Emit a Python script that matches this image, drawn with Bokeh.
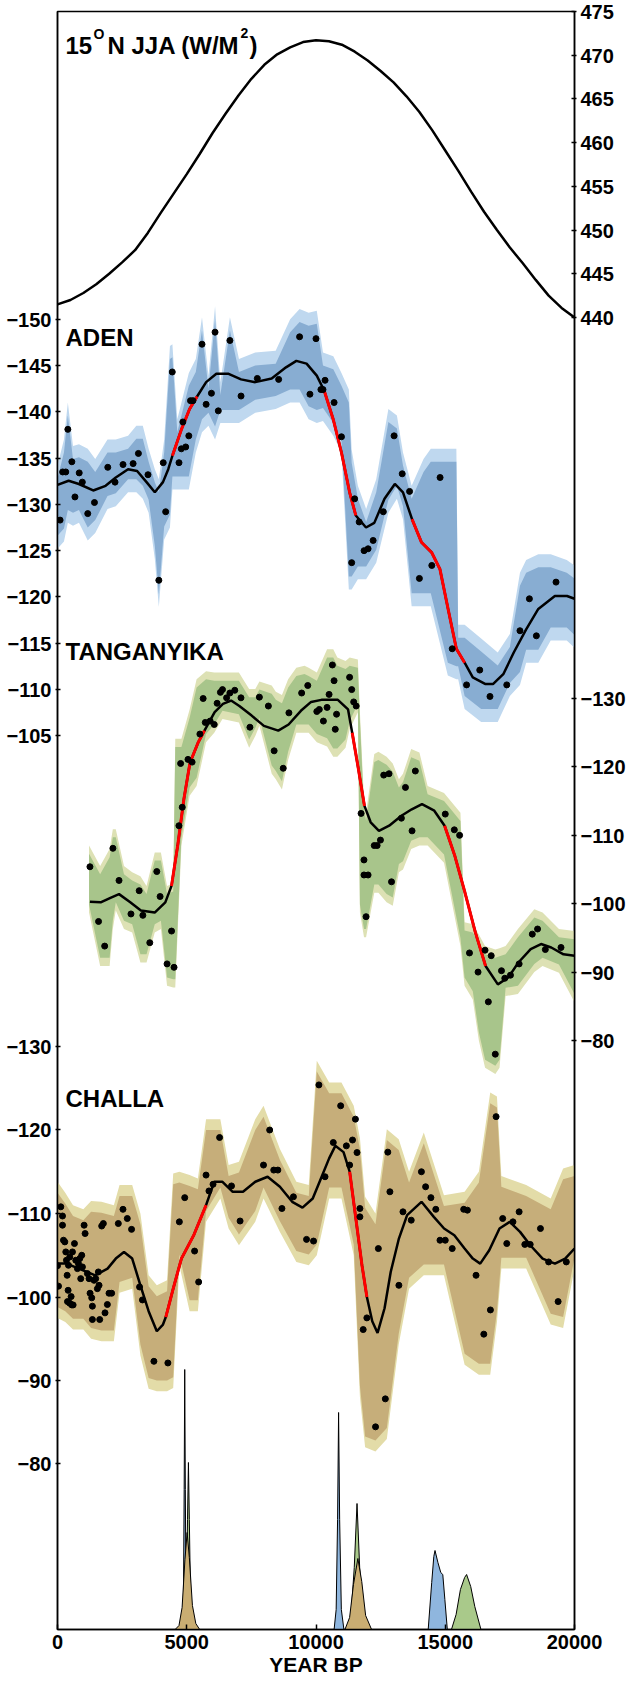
import numpy as np
from bokeh.plotting import figure
from bokeh.models import Range1d, LinearAxis, FixedTicker, Label
from bokeh.embed import file_html
from bokeh.resources import INLINE

# ---------------- data ----------------
insol_year = [0, 500, 1000, 1500, 2000, 2500, 3000, 3500, 4000, 4500, 5000, 5500, 6000, 6500, 7000, 7500,
              8000, 8500, 9000, 9500, 10000, 10500, 11000, 11500, 12000, 12500, 13000, 13500, 14000, 14500,
              15000, 15500, 16000, 16500, 17000, 17500, 18000, 18500, 19000, 19500, 20000]
insol_wm2 = [441.5, 442.0, 442.8, 443.8, 445.0, 446.3, 447.7, 449.7, 452.0, 454.2, 456.4, 458.7, 461.1, 463.3,
             465.4, 467.3, 468.9, 470.1, 470.9, 471.5, 471.7, 471.6, 471.2, 470.4, 469.4, 468.2, 466.9, 465.3,
             463.5, 461.4, 459.1, 456.8, 454.4, 452.1, 450.0, 448.0, 446.2, 444.3, 442.5, 441.1, 440.0]

aden_year = [100, 200, 320, 400, 555, 675, 840, 960, 1170, 1430, 1945, 2225, 2535, 2925, 3130, 3500, 3920,
             4090, 4185, 4440, 4700, 4790, 4850, 4960, 5080, 5145, 5240, 5590, 5750, 5955, 6095, 6220,
             6670, 7100, 7730, 8555, 9365, 9765, 10000, 10190, 10270, 10350, 10700, 10985, 11380, 11495,
             11670, 11860, 12015, 12210, 12605, 13020, 13335, 13620, 14000, 14480, 14800, 15270, 15825,
             16335, 16730, 17380, 17890, 18255, 18525, 19285]
aden_dD = [-128.3, -133.5, -133.5, -138.1, -134.6, -130.8, -133.4, -132.4, -129.0, -130.2, -134.0, -132.4,
           -134.3, -134.4, -135.5, -133.2, -121.8, -134.5, -129.2, -144.3, -134.5, -136.0, -138.9, -136.2,
           -137.4, -141.2, -141.2, -147.3, -140.8, -142.0, -148.6, -140.1, -147.7, -141.7, -143.6, -143.5,
           -148.1, -141.9, -147.9, -142.4, -142.4, -143.4, -141.0, -137.3, -123.7, -130.6, -128.1, -125.0,
           -125.2, -126.1, -129.2, -137.4, -133.3, -131.4, -122.0, -123.4, -132.9, -114.4, -110.5, -112.1,
           -109.25, -110.5, -116.35, -119.8, -115.8, -121.6]
aden_fit_year = [0, 430, 826, 1380, 1860, 2255, 2730, 3080, 3445, 3765, 4080, 4285, 4445, 4795, 5110, 5400,
                 5750, 6145, 6620, 7100, 7650, 8285, 8840, 9240, 9635, 10030, 10315, 10665, 10985, 11300,
                 11540, 11935, 12255, 12650, 13050, 13365, 13715, 14080, 14475, 14795, 15110, 15430, 15750,
                 16065, 16540, 16855, 17255, 17650, 18130, 18600, 19240, 19710, 20000]
aden_fit = [-132.1, -132.55, -132.2, -131.5, -132.0, -132.9, -133.8, -133.6, -132.4, -131.3, -132.4, -133.8,
            -135.25, -138.1, -140.3, -141.65, -143.2, -144.1, -144.1, -143.5, -143.2, -143.6, -144.8, -145.5,
            -145.2, -143.9, -142.3, -139.2, -135.6, -131.3, -128.8, -127.5, -128.0, -130.6, -132.2, -131.3,
            -128.4, -125.9, -124.8, -123.0, -118.7, -114.4, -112.9, -111.3, -110.6, -110.6, -111.7, -114.0,
            -116.5, -118.7, -120.1, -120.1, -119.8]
aden_red = [(4445, 5400), (10315, 11540), (13715, 15750)]
aden_band_year = [0, 250, 400, 600, 830, 1170, 1460, 1935, 2255, 2730, 3050, 3300, 3525, 3765, 3920, 4127,
                  4350, 4445, 4635, 5080, 5350, 5590, 5840, 6095, 6300, 6670, 7020, 7650, 8440, 9000, 9365,
                  9715, 10030, 10270, 10670, 10985, 11270, 11380, 11620, 11940, 12330, 12800, 13130, 13365,
                  13700, 14160, 14440, 15100, 15430, 15500, 15750, 16390, 17030, 17500, 17890, 18130, 18600,
                  19080, 19700, 20000]
aden_outer_lo = [-134.2, -137.0, -141.0, -136.3, -136.5, -136.0, -134.9, -137.0, -137.0, -137.4, -138.5, -138.5,
                 -136.0, -133.8, -132.7, -137.0, -147.1, -147.3, -139.2, -144.2, -145.7, -150.2, -143.9, -151.4,
                 -143.2, -150.2, -145.7, -146.4, -146.6, -150.0, -151.1, -150.7, -150.9, -146.4, -146.0, -144.2,
                 -142.4, -135.9, -132.0, -129.5, -132.7, -140.3, -139.6, -135.6, -132.0, -134.9, -136.0, -136.0,
                 -136.0, -117.0, -117.0, -115.5, -114.0, -116.0, -122.6, -124.0, -124.6, -124.6, -124.0, -123.4]
aden_outer_hi = [-125.2, -126.0, -128.0, -127.7, -128.0, -126.1, -126.9, -129.5, -129.8, -131.3, -131.3, -130.6,
                 -129.1, -124.1, -118.9, -126.2, -127.5, -131.6, -131.6, -131.6, -135.6, -137.8, -138.5, -137.0,
                 -138.8, -138.8, -138.8, -139.9, -140.3, -141.0, -141.0, -139.2, -138.8, -139.0, -137.4, -135.6,
                 -120.8, -120.8, -121.9, -121.9, -123.7, -129.1, -130.6, -128.4, -119.0, -119.0, -119.0, -111.5,
                 -111.1, -111.1, -107.9, -106.5, -106.5, -109.3, -110.5, -112.9, -112.9, -115.3, -115.3, -114.5]
aden_inner_lo = [-132.8, -135.6, -139.6, -134.9, -135.1, -134.6, -133.5, -135.6, -135.6, -136.0, -137.1, -137.1,
                 -134.6, -132.4, -131.3, -135.6, -145.7, -145.9, -137.8, -142.8, -144.3, -148.8, -142.5, -150.0,
                 -141.8, -148.8, -144.3, -145.0, -145.2, -148.6, -149.7, -149.3, -149.5, -145.0, -144.6, -142.8,
                 -141.0, -134.5, -130.6, -128.1, -131.3, -138.9, -138.2, -134.2, -130.6, -133.5, -134.6, -134.6,
                 -134.6, -115.6, -115.6, -114.1, -112.6, -114.6, -121.2, -122.6, -123.2, -123.2, -122.6, -122.0]
aden_inner_hi = [-126.6, -127.4, -129.4, -129.1, -129.4, -127.5, -128.3, -130.9, -131.2, -132.7, -132.7, -132.0,
                 -130.5, -125.5, -120.3, -127.6, -128.9, -133.0, -133.0, -133.0, -137.0, -139.2, -139.9, -138.4,
                 -140.2, -140.2, -140.2, -141.3, -141.7, -142.4, -142.4, -140.6, -140.2, -140.4, -138.8, -137.0,
                 -122.2, -122.2, -123.3, -123.3, -125.1, -130.5, -132.0, -129.8, -120.4, -120.4, -120.4, -112.9,
                 -112.5, -112.5, -109.3, -107.9, -107.9, -110.7, -111.9, -114.3, -114.3, -116.7, -116.7, -115.9]

tang_year = [1255, 1588, 1825, 2143, 2380, 2842, 3160, 3302, 3570, 3841, 3969, 4238, 4412, 4508, 4698, 4763,
             4825, 5048, 5207, 5508, 5635, 5716, 5905, 6064, 6175, 6302, 6383, 6541, 6668, 6858, 7097, 7444,
             7810, 8158, 8381, 8732, 8952, 9445, 9681, 10031, 10128, 10286, 10428, 10506, 10634, 10699, 10745,
             10795, 11300, 11381, 11458, 11555, 11744, 11856, 11856, 11937, 12015, 12253, 12365, 12493, 12620,
             12824, 12921, 13303, 13461, 13716, 13843, 15000, 15351, 15556, 15937, 16269, 16540, 16667, 16778,
             16935, 17175, 17303, 17523, 17858, 18367, 18571, 18872, 19478]
tang_dD = [-105.4, -97.4, -93.8, -108.1, -103.4, -98.5, -101.9, -98.3, -94.3, -104.7, -101.05, -91.2, -96.0,
           -90.7, -111.4, -120.5, -114.1, -121.1, -120.7, -124.8, -130.0, -126.5, -126.7, -126.2, -129.3, -130.9,
           -131.3, -130.1, -130.8, -131.2, -130.1, -125.8, -130.2, -128.9, -122.35, -119.8, -127.9, -130.8,
           -131.9, -128.1, -128.4, -126.7, -128.7, -130.6, -134.9, -132.6, -125.5, -127.7, -133.1, -131.3,
           -129.5, -128.9, -113.2, -106.4, -104.2, -98.1, -104.2, -108.5, -108.5, -109.3, -118.8, -119.0,
           -103.2, -112.5, -117.0, -110.65, -119.4, -113.1, -110.8, -110.0, -92.8, -90.0, -93.2, -85.65, -92.4,
           -78.0, -90.2, -89.1, -89.55, -91.2, -95.55, -96.3, -93.3, -93.6]
tang_fit_year = [1255, 1670, 2070, 2380, 2815, 3225, 3760, 4170, 4410, 4650, 4890, 5125, 5445, 5685, 6080,
                 6400, 6715, 7035, 7510, 7985, 8540, 8940, 9415, 9810, 10210, 10845, 11240, 11400, 11640,
                 11875, 12115, 12435, 12830, 13305, 13705, 14100, 14575, 14975, 15370, 15765, 16165, 16560,
                 17035, 17435, 17830, 18305, 18705, 19100, 19575, 20000]
tang_fit = [-100.3, -100.2, -100.9, -101.4, -100.2, -99.0, -98.7, -100.2, -102.6, -108.5, -115.3, -120.6,
            -123.6, -125.3, -128.0, -129.2, -129.7, -128.9, -127.5, -126.0, -125.3, -126.2, -128.2, -129.5,
            -129.8, -129.8, -128.4, -125.0, -119.7, -114.3, -111.9, -110.65, -111.4, -112.85, -113.8, -114.55,
            -113.6, -111.4, -107.0, -101.6, -95.8, -90.9, -88.2, -89.2, -91.4, -93.35, -94.1, -93.6, -92.6, -92.4]
tang_red = [(4410, 5685), (11400, 11875), (14975, 16560)]
tang_band_year = [1220, 1650, 2016, 2140, 2255, 2572, 2890, 3207, 3445, 3762, 4000, 4238, 4476, 4556, 4794,
                  5111, 5381, 5747, 6064, 6382, 7017, 7414, 7652, 7811, 8287, 8445, 8683, 8922, 9239, 9556,
                  9715, 10032, 10429, 10667, 10826, 11143, 11302, 11620, 11699, 11858, 11937, 12255, 12414,
                  12731, 12969, 13207, 13366, 13683, 14001, 14318, 14953, 15588, 15747, 16065, 16300, 16541,
                  16938, 17100, 17335, 17811, 18446, 18764, 19399, 20000]
tang_outer_lo = [-108.5, -105.5, -108.0, -110.9, -110.9, -105.5, -104.6, -104.0, -102.6, -107.5, -107.5, -102.6,
                 -103.0, -124.1, -124.1, -128.4, -132.8, -134.0, -133.8, -133.8, -133.8, -131.4, -131.4, -132.5,
                 -131.9, -131.0, -130.5, -132.8, -134.5, -134.8, -134.5, -133.8, -137.2, -137.2, -136.0, -135.5,
                 -136.0, -135.7, -128.0, -115.0, -113.3, -121.9, -122.2, -121.5, -120.5, -118.2, -119.0, -122.6,
                 -122.1, -117.2, -116.2, -113.3, -97.3, -97.0, -95.5, -93.8, -93.3, -93.5, -93.8, -96.3, -99.2,
                 -98.7, -96.3, -96.0]
tang_outer_hi = [-98.7, -90.9, -90.9, -96.3, -99.0, -96.3, -95.8, -91.4, -91.4, -95.8, -96.3, -88.0, -87.75,
                 -87.75, -108.5, -115.8, -117.2, -123.6, -125.0, -127.0, -126.5, -122.8, -124.5, -126.0, -119.0,
                 -118.2, -116.7, -121.0, -125.0, -125.0, -125.0, -123.6, -123.0, -121.5, -121.5, -122.8, -125.5,
                 -128.0, -98.7, -95.1, -95.1, -101.6, -101.6, -100.2, -99.7, -104.6, -105.0, -108.0, -108.5,
                 -108.5, -106.0, -93.8, -88.0, -86.0, -80.0, -76.0, -75.1, -76.0, -86.5, -86.8, -90.0, -90.9,
                 -89.9, -85.6]
tang_inner_lo = [-107.3, -104.3, -106.8, -109.7, -109.7, -104.3, -103.4, -102.8, -101.4, -106.3, -106.3, -101.4,
                 -101.8, -122.9, -122.9, -127.2, -131.6, -132.8, -132.6, -132.6, -132.6, -130.2, -130.2, -131.3,
                 -130.7, -129.8, -129.3, -131.6, -133.3, -133.6, -133.3, -132.6, -136.0, -136.0, -134.8, -134.3,
                 -134.8, -134.5, -126.8, -113.8, -112.1, -120.7, -121.0, -120.3, -119.3, -117.0, -117.8, -121.4,
                 -120.9, -116.0, -115.0, -112.1, -96.1, -95.8, -94.3, -92.6, -92.1, -92.3, -92.6, -95.1, -98.0,
                 -97.5, -95.1, -94.8]
tang_inner_hi = [-99.9, -92.1, -92.1, -97.5, -100.2, -97.5, -97.0, -92.6, -92.6, -97.0, -97.5, -89.2, -88.95,
                 -88.95, -109.7, -117.0, -118.4, -124.8, -126.2, -128.2, -127.7, -124.0, -125.7, -127.2, -120.2,
                 -119.4, -117.9, -122.2, -126.2, -126.2, -126.2, -124.8, -124.2, -122.7, -122.7, -124.0, -126.7,
                 -129.2, -99.9, -96.3, -96.3, -102.8, -102.8, -101.4, -100.9, -105.8, -106.2, -109.2, -109.7,
                 -109.7, -107.2, -95.0, -89.2, -87.2, -81.2, -77.2, -76.3, -77.2, -87.7, -88.0, -91.2, -92.1,
                 -91.1, -86.8]

challa_year = [0, 39, 128, 193, 193, 231, 283, 321, 347, 373, 386, 411, 424, 475, 475, 527, 553, 578, 604, 656,
               707, 771, 810, 861, 899, 938, 964, 1029, 1068, 1157, 1221, 1260, 1324, 1350, 1350, 1414, 1478,
               1543, 1581, 1607, 1633, 1710, 1774, 1838, 1929, 1993, 2095, 2353, 2533, 2700, 2865, 3175, 3286,
               3730, 4270, 4714, 4922, 5303, 5461, 5747, 5859, 6017, 6271, 6731, 7063, 7969, 8208, 8366, 8524,
               8682, 9126, 9634, 9904, 10112, 10349, 10669, 10954, 11174, 11301, 11413, 11525, 11587, 11698,
               11698, 11826, 11968, 12303, 12412, 12682, 12778, 12859, 13206, 13364, 13684, 14078, 14240, 14445,
               14634, 14796, 15000, 15270, 15714, 15857, 16191, 16492, 16747, 16967, 17222, 17380, 17619, 17858,
               18078, 18286, 18683, 19000, 19366, 19683]
challa_dD = [-103.75, -101.3, -110.8, -109.7, -108.6, -106.8, -106.6, -105.4, -104.4, -102.6, -99.45, -100.8,
             -103.8, -99.25, -104.8, -100.05, -99.05, -105.4, -99.05, -106.4, -104.4, -103.4, -104.0, -104.6,
             -102.2, -105.0, -103.6, -108.6, -107.6, -102.8, -102.2, -100.45, -99.9, -97.3, -98.9, -102.0,
             -102.2, -101.0, -103.0, -101.4, -97.3, -108.5, -108.8, -98.1, -99.1, -100.45, -100.45, -108.8,
             -110.5, -109.4, -108.1, -101.2, -99.65, -92.3, -92.1, -109.0, -111.9, -105.5, -101.8, -114.6,
             -112.7, -113.5, -119.1, -113.3, -109.1, -115.8, -120.0, -115.2, -115.2, -110.6, -112.0, -106.9,
             -106.7, -125.4, -114.4, -118.5, -122.9, -118.1, -115.8, -118.8, -121.3, -117.3, -110.6, -109.6,
             -96.1, -97.5, -84.45, -105.8, -87.8, -117.35, -112.6, -101.4, -110.2, -109.2, -115.0, -113.2,
             -111.9, -110.5, -106.8, -106.8, -105.8, -110.5, -110.4, -102.6, -95.55, -98.45, -121.6, -109.4,
             -106.4, -109.0, -110.2, -106.3, -106.3, -108.2, -104.2, -99.45, -104.2]
challa_fit_year = [0, 350, 826, 1460, 1937, 2255, 2572, 2890, 3207, 3525, 3842, 4080, 4190, 4476, 4794, 5270,
                   5747, 6064, 6382, 6779, 7176, 7652, 8128, 8604, 9080, 9477, 9874, 10191, 10508, 10747, 11065,
                   11303, 11541, 11779, 11969, 12176, 12382, 12652, 12890, 13207, 13525, 14081, 14557, 14954,
                   15351, 15748, 16066, 16352, 16702, 17099, 17496, 17893, 18290, 18766, 19243, 19639, 20000]
challa_fit = [-104.0, -104.0, -103.4, -102.6, -103.4, -104.6, -105.4, -104.6, -101.4, -98.3, -95.9, -96.7, -97.6,
              -101.0, -104.6, -107.4, -111.0, -113.8, -113.8, -112.6, -112.6, -113.8, -114.4, -113.2, -111.4,
              -110.7, -111.8, -114.2, -116.6, -118.1, -117.35, -115.0, -109.4, -103.8, -100.0, -97.1, -95.7,
              -98.65, -103.0, -107.0, -109.8, -111.4, -109.6, -108.2, -107.4, -105.8, -104.6, -104.0, -105.6,
              -108.2, -109.0, -107.8, -106.2, -104.6, -104.0, -104.6, -105.8]
challa_red = [(4190, 5747), (11303, 11969)]
challa_band_year = [0, 300, 600, 1000, 1300, 1700, 2180, 2400, 2890, 3207, 3525, 3842, 4238, 4476, 4714, 5111,
                    5430, 5747, 6300, 6620, 7020, 7650, 7970, 8600, 9240, 9720, 10030, 10510, 10985, 11460,
                    11700, 11900, 12300, 12740, 13200, 13600, 14170, 14950, 15750, 16300, 16740, 17000, 17170,
                    18130, 19080, 19560, 20000]
challa_outer_lo = [-113.8, -112.5, -111.0, -110.5, -111.5, -111.4, -111.0, -113.4, -113.4, -110.0, -102.6,
                   -101.4, -102.0, -114.8, -115.0, -114.6, -114.2, -121.3, -121.3, -115.8, -116.2, -121.3,
                   -122.9, -117.75, -113.8, -113.4, -128.3, -125.7, -125.7, -122.9, -119.0, -112.0, -110.0,
                   -120.1, -118.9, -115.0, -119.7, -112.2, -112.6, -115.0, -124.5, -124.0, -114.5, -113.4,
                   -111.8, -115.4, -115.8]
challa_outer_hi = [-97.5, -97.0, -96.1, -96.1, -95.0, -94.7, -94.7, -100.5, -101.0, -93.0, -89.0, -88.7, -88.7,
                   -89.1, -103.8, -98.3, -98.3, -109.0, -111.8, -108.2, -106.2, -109.0, -111.8, -107.8, -104.2,
                   -103.8, -105.0, -111.8, -111.8, -105.0, -88.0, -82.0, -81.5, -83.0, -94.3, -101.0, -102.6,
                   -102.6, -91.9, -90.7, -90.7, -97.0, -103.4, -103.4, -96.7, -96.3, -103.4]
challa_inner_lo = [-112.5, -111.2, -109.7, -109.2, -110.2, -110.1, -109.7, -112.1, -112.1, -108.7, -101.3,
                   -100.1, -100.7, -113.5, -113.7, -113.3, -112.9, -120.0, -120.0, -114.5, -114.9, -120.0,
                   -121.6, -116.45, -112.5, -112.1, -127.0, -124.4, -124.4, -121.6, -117.7, -110.7, -108.7,
                   -118.8, -117.6, -113.7, -118.4, -110.9, -111.3, -113.7, -123.2, -122.7, -113.2, -112.1,
                   -110.5, -114.1, -114.5]
challa_inner_hi = [-98.8, -98.3, -97.4, -97.4, -96.3, -96.0, -96.0, -101.8, -102.3, -94.3, -90.3, -90.0, -90.0,
                   -90.4, -105.1, -99.6, -99.6, -110.3, -113.1, -109.5, -107.5, -110.3, -113.1, -109.1, -105.5,
                   -105.1, -106.3, -113.1, -113.1, -106.3, -89.3, -83.3, -82.8, -84.3, -95.6, -102.3, -103.9,
                   -103.9, -93.2, -92.0, -92.0, -98.3, -104.7, -104.7, -98.0, -97.6, -104.7]

# age probability distributions of the transitions (arbitrary units)
age_aden_1_year = [4800, 4870, 4900, 4922, 4945, 4975, 5040]
age_aden_1_p = [0, 20, 140, 260, 140, 20, 0]
age_tang_1_year = [4900, 4980, 5030, 5065, 5100, 5150, 5220]
age_tang_1_p = [0, 25, 110, 167, 110, 25, 0]
age_challa_1_year = [4550, 4700, 4820, 4930, 5015, 5100, 5220, 5350, 5500]
age_challa_1_p = [0, 4, 22, 70, 97, 72, 24, 6, 0]
age_aden_2_year = [10700, 10780, 10835, 10874, 10915, 10980, 11080]
age_aden_2_p = [0, 20, 110, 217, 110, 20, 0]
age_tang_2_year = [11200, 11350, 11480, 11587, 11690, 11820, 12000]
age_tang_2_p = [0, 12, 62, 126, 62, 12, 0]
age_challa_2_year = [11120, 11300, 11450, 11620, 11770, 11920, 12150]
age_challa_2_p = [0, 12, 45, 71, 48, 14, 0]
age_aden_3_year = [14340, 14476, 14557, 14604, 14716, 14827, 14905, 14985, 15080]
age_aden_3_p = [0, 47, 73, 79, 67, 57, 55, 30, 0]
age_tang_3_year = [15240, 15420, 15587, 15749, 15826, 15985, 16143, 16381]
age_tang_3_p = [0, 15, 40, 52, 55, 43, 23, 0]

insol_ticks = [475, 470, 465, 460, 455, 450, 445, 440]
aden_ticks = [-150, -145, -140, -135, -130, -125, -120, -115, -110, -105]
tang_ticks = [-130, -120, -110, -100, -90, -80]
challa_ticks = [-130, -120, -110, -100, -90, -80]
year_ticks = [0, 5000, 10000, 15000, 20000]

# ---------------- layout ----------------
FT, FB = 19.0, 1637.0          # frame top / bottom (page rows)
FH = FB - FT
# value anchors: (v1, page row1, v2, page row2)
A_INSOL = (475.0, 19.0, 440.0, 325.0)
A_ADEN = (-150.0, 326.7, -105.0, 743.3)
A_TANG = (-130.0, 706.0, -80.0, 1048.0)
A_CHALLA = (-130.0, 1054.0, -80.0, 1471.5)


def make_range(a):
    v1, r1, v2, r2 = a
    s = (v2 - v1) / (r2 - r1)
    return Range1d(start=v1 + (FB - r1) * s, end=v1 + (FT - r1) * s)


def tick_row(v, a):
    v1, r1, v2, r2 = a
    return int(round(r1 + (v - v1) * (r2 - r1) / (v2 - v1) - FT))


def lab(v):
    return str(v).replace("-", "\u2212")


FONT = "Liberation Sans"

p = figure(width=628, height=1682, x_range=Range1d(0, 20000), y_range=Range1d(start=FH, end=0),
           output_backend="svg", toolbar_location=None, title=None,
           min_border_left=57, min_border_right=52, min_border_top=int(FT - 8),
           min_border_bottom=int(1690 - FB))
p.grid.visible = False
p.outline_line_color = "black"
p.outline_line_width = 1.5
p.background_fill_color = "white"
p.border_fill_color = "white"
p.extra_y_ranges = {
    "insol": make_range(A_INSOL),
    "aden": make_range(A_ADEN),
    "tang": make_range(A_TANG),
    "challa": make_range(A_CHALLA),
    "age": Range1d(start=0, end=FH),
}


def style_axis(ax, size="20px"):
    ax.axis_line_color = "black"
    ax.axis_line_width = 1.5
    ax.major_tick_line_color = "black"
    ax.major_tick_line_width = 1.5
    ax.minor_tick_line_color = None
    ax.major_label_text_font = FONT
    ax.major_label_text_font_style = "bold"
    ax.major_label_text_font_size = size
    ax.major_label_text_color = "black"


# left axis: ADEN + CHALLA
left_ticks, left_labels = [], {}
for v in aden_ticks:
    r = tick_row(v, A_ADEN)
    left_ticks.append(r)
    left_labels[r] = lab(v)
for v in challa_ticks:
    r = tick_row(v, A_CHALLA)
    left_ticks.append(r)
    left_labels[r] = lab(v)
ly = p.yaxis[0]
ly.ticker = FixedTicker(ticks=left_ticks)
ly.major_label_overrides = left_labels
style_axis(ly)
ly.major_tick_in = 3
ly.major_tick_out = 2
ly.major_label_standoff = 4

# right axis: insolation + TANGANYIKA
right_ticks, right_labels = [], {}
for v in insol_ticks:
    r = tick_row(v, A_INSOL)
    right_ticks.append(r)
    right_labels[r] = lab(v)
for v in tang_ticks:
    r = tick_row(v, A_TANG)
    right_ticks.append(r)
    right_labels[r] = lab(v)
ry = LinearAxis(ticker=FixedTicker(ticks=right_ticks), major_label_overrides=right_labels)
style_axis(ry)
ry.major_tick_in = 3
ry.major_tick_out = 2
ry.major_label_standoff = 4
p.add_layout(ry, "right")

bx = p.xaxis[0]
bx.ticker = FixedTicker(ticks=year_ticks)
bx.major_label_overrides = {t: str(t) for t in year_ticks}
style_axis(bx, "20px")
bx.major_tick_in = 5
bx.major_tick_out = 0
bx.major_label_standoff = 5
bx.axis_label = "YEAR BP"
bx.axis_label_text_font = FONT
bx.axis_label_text_font_style = "bold"
bx.axis_label_text_font_size = "21px"
bx.axis_label_text_color = "black"
bx.axis_label_standoff = 1

# ---------------- glyphs ----------------
p.line(insol_year, insol_wm2, line_color="black", line_width=2.5, y_range_name="insol")


def panel(name, bx_, olo, ohi, ilo, ihi, oc, ic, fx, fy, reds, px, py):
    p.varea(x=bx_, y1=olo, y2=ohi, fill_color=oc, y_range_name=name)
    p.varea(x=bx_, y1=ilo, y2=ihi, fill_color=ic, y_range_name=name)
    p.line(fx, fy, line_color="black", line_width=2.5, y_range_name=name)
    fxa, fya = np.asarray(fx), np.asarray(fy)
    for a, b in reds:
        m = (fxa >= a) & (fxa <= b)
        p.line(fxa[m], fya[m], line_color="#ff0000", line_width=3, y_range_name=name)
    p.scatter(px, py, size=6, fill_color="black", line_color="black", y_range_name=name)


panel("aden", aden_band_year, aden_outer_lo, aden_outer_hi, aden_inner_lo, aden_inner_hi,
      "#bfd8ef", "#88add2", aden_fit_year, aden_fit, aden_red, aden_year, aden_dD)
panel("tang", tang_band_year, tang_outer_lo, tang_outer_hi, tang_inner_lo, tang_inner_hi,
      "#dde1b4", "#a8c58b", tang_fit_year, tang_fit, tang_red, tang_year, tang_dD)
panel("challa", challa_band_year, challa_outer_lo, challa_outer_hi, challa_inner_lo, challa_inner_hi,
      "#e3dca8", "#c6ae7a", challa_fit_year, challa_fit, challa_red, challa_year, challa_dD)

BLUE, GREEN, TAN = "#8fb6de", "#a9c98a", "#c9ad72"
for xs, ys, c in [(age_aden_1_year, age_aden_1_p, BLUE), (age_tang_1_year, age_tang_1_p, GREEN),
                  (age_challa_1_year, age_challa_1_p, TAN), (age_aden_2_year, age_aden_2_p, BLUE),
                  (age_tang_2_year, age_tang_2_p, GREEN), (age_challa_2_year, age_challa_2_p, TAN),
                  (age_aden_3_year, age_aden_3_p, BLUE), (age_tang_3_year, age_tang_3_p, GREEN)]:
    p.patch(xs, ys, fill_color=c, line_color="black", line_width=1, y_range_name="age")

# ---------------- texts ----------------
def add_text(text, xoff, page_row, size, x=0, align="left"):
    p.add_layout(Label(x=x, y=page_row - FT, x_offset=xoff, text=text, text_font=FONT,
                       text_font_style="bold", text_font_size=size, text_color="black",
                       text_baseline="alphabetic", text_align=align))


add_text("15", 8, 52.7, "24px")
add_text("O", 36, 41.5, "14px")
add_text("N JJA (W/M", 50, 52.7, "24px")
add_text("2", 183, 40.0, "14px")
add_text(")", 192, 52.7, "24px")
add_text("ADEN", 8, 345.0, "24px")
add_text("TANGANYIKA", 8, 659.3, "24px")
add_text("CHALLA", 8, 1106.0, "24px")

open("out.html", "w").write(file_html(p, INLINE))
